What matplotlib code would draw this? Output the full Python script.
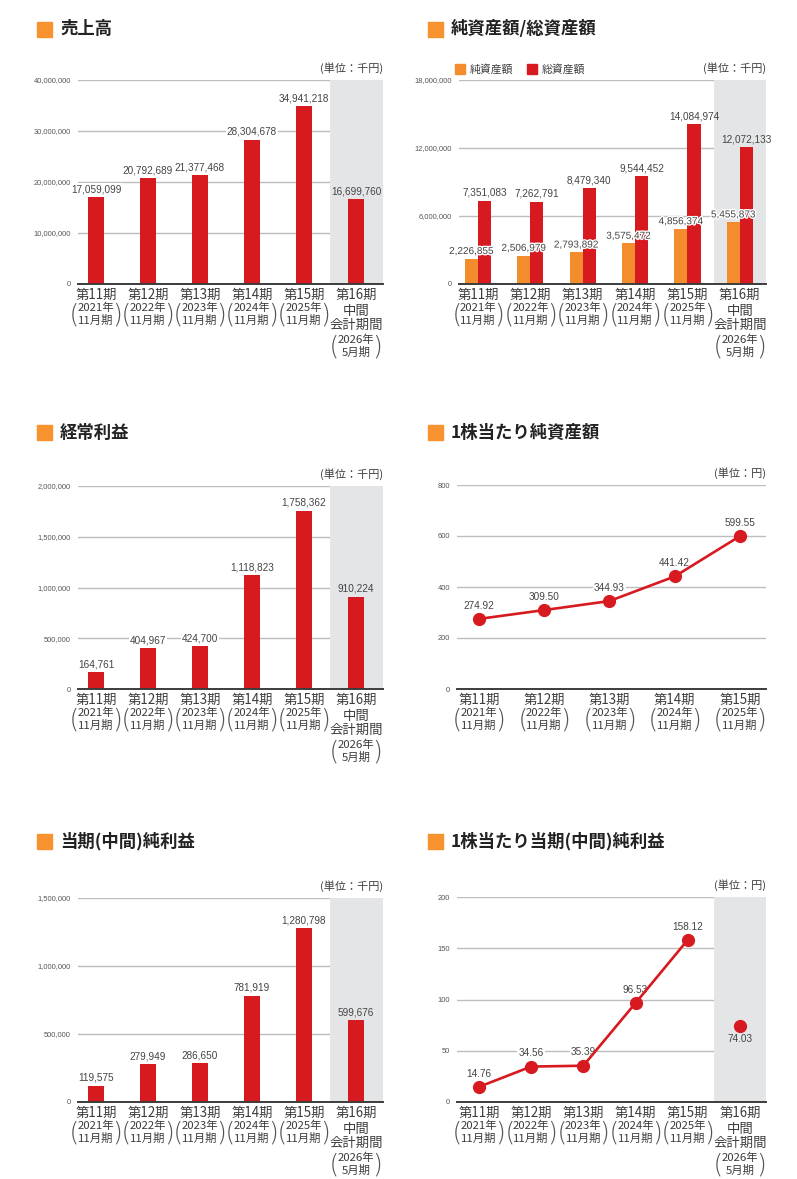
import matplotlib
matplotlib.use("Agg")
import matplotlib.pyplot as plt
import matplotlib.transforms as mtrans
import matplotlib.patheffects as pe
from matplotlib.patches import Rectangle
from matplotlib import font_manager as fm

# --- dati ---
periods = ["第11期", "第12期", "第13期", "第14期", "第15期", "第16期"]
years = ["2021年", "2022年", "2023年", "2024年", "2025年", "2026年"]
months = ["11月期", "11月期", "11月期", "11月期", "11月期", "5月期"]

sales = [17059099, 20792689, 21377468, 28304678, 34941218, 16699760]
net_assets = [2226855, 2506979, 2793892, 3575472, 4856374, 5455873]
total_assets = [7351083, 7262791, 8479340, 9544452, 14084974, 12072133]
ordinary_profit = [164761, 404967, 424700, 1118823, 1758362, 910224]
bps = [274.92, 309.50, 344.93, 441.42, 599.55]
net_income = [119575, 279949, 286650, 781919, 1280798, 599676]
eps = [14.76, 34.56, 35.39, 96.53, 158.12]
eps_interim = 74.03

sales_ticks = [0, 10000000, 20000000, 30000000, 40000000]
assets_ticks = [0, 6000000, 12000000, 18000000]
profit_ticks = [0, 500000, 1000000, 1500000, 2000000]
bps_ticks = [0, 200, 400, 600, 800]
income_ticks = [0, 500000, 1000000, 1500000]
eps_ticks = [0, 50, 100, 150, 200]

# --- stile ---
W, H, DPI = 797, 1179, 100
RED = "#d71920"
ORANGE = "#f28c2c"
SQUARE = "#f7922f"
SHADE = "#e4e5e7"
GRID = "#bdbdbd"
TXT = "#3c3c3c"

available = {f.name for f in fm.fontManager.ttflist}
NUM_FONT = "Liberation Sans Narrow" if "Liberation Sans Narrow" in available else "Liberation Sans"
JP = ["Noto Sans CJK JP", "DejaVu Sans"]
plt.rcParams["font.family"] = JP

fig = plt.figure(figsize=(W / DPI, H / DPI), dpi=DPI, facecolor="white")


def make_axes(l, t, r, b):
    return fig.add_axes([l / W, 1 - b / H, (r - l) / W, (b - t) / H])


def title(x, y, s):
    fig.patches.append(Rectangle((x / W, 1 - (y + 7.5) / H), 15 / W, 15 / H,
                                 transform=fig.transFigure, color=SQUARE))
    fig.text((x + 23) / W, 1 - y / H, s, fontsize=12.5, fontweight="bold",
             va="center", ha="left", color="#222222")


def unit(ax, s):
    pos = ax.get_position()
    fig.text(pos.x1, pos.y1 + 12 / H, s, fontsize=8, ha="right", va="center", color=TXT)


def base_axes(ax, ticks, labels, xlim, shade=True):
    ax.set_xlim(*xlim)
    ax.set_ylim(ticks[0], ticks[-1])
    ax.set_yticks(ticks)
    ax.set_yticklabels(labels, fontfamily=NUM_FONT, fontsize=5.4, color="#555555")
    ax.tick_params(axis="y", length=0, pad=5)
    ax.set_xticks([])
    for t in ticks[1:]:
        ax.axhline(t, color=GRID, lw=1.0, zorder=0)
    for s in ["top", "right", "left"]:
        ax.spines[s].set_visible(False)
    ax.spines["bottom"].set_color("#3c3c3c")
    ax.spines["bottom"].set_linewidth(1.4)
    ax.spines["bottom"].set_zorder(5)
    if shade:
        ax.axvspan(4.5, xlim[1], color=SHADE, zorder=0, lw=0)
    ax.set_facecolor("none")


def cat_labels(ax, n):
    yb = (1 - ax.get_position().y0) * H
    tr = mtrans.blended_transform_factory(ax.transData, fig.transFigure)
    for i in range(n):
        def put(dy, s, size, dx=0, color=TXT, **kw):
            t = mtrans.offset_copy(tr, fig=fig, x=dx, y=0, units="dots")
            ax.text(i, 1 - (yb + dy) / H, s, transform=t, fontsize=size, ha="center",
                    va="center", color=color, clip_on=False, **kw)
        put(11, periods[i], 9.6)
        if i < 5:
            y2, y3 = 24, 36
        else:
            put(27, "中間", 9.6)
            put(41, "会計期間", 9.6)
            y2, y3 = 56, 68
        put(y2, years[i], 8.2)
        put(y3, months[i], 8.2)
        put((y2 + y3) / 2 + 1, "(", 17, dx=-22, fontweight="light", color="#555555")
        put((y2 + y3) / 2 + 1, ")", 17, dx=22, fontweight="light", color="#555555")


def value_label(ax, x, y, s, bg, dy=2, va="bottom", stroke=False, z=6):
    kw = {}
    if stroke:
        kw["path_effects"] = [pe.withStroke(linewidth=2, foreground="white")]
    elif bg is not None:
        kw["bbox"] = dict(boxstyle="square,pad=0.1", fc=bg, ec="none")
    ax.annotate(s, (x, y), xytext=(0, dy), textcoords="offset points", ha="center", va=va,
                fontsize=7.2, fontfamily=NUM_FONT, color="#444444", zorder=z, **kw)


def bar_chart(ax, vals, ticks):
    xs = list(range(len(vals)))
    ax.bar(xs, vals, width=0.31, color=RED, zorder=3)
    for x, v in zip(xs, vals):
        value_label(ax, x, v, f"{v:,}", SHADE if x == 5 else "white")


def line_chart(ax, vals):
    xs = list(range(len(vals)))
    ax.plot(xs, vals, color=RED, lw=1.9, marker="o", ms=8.5, zorder=4, clip_on=False)
    for x, v in zip(xs, vals):
        value_label(ax, x, v, f"{v:.2f}", "white", dy=6, z=3)


fmt = lambda t: f"{t:,}"

# 売上高
ax1 = make_axes(78, 80, 383, 284)
base_axes(ax1, sales_ticks, [fmt(t) for t in sales_ticks], (-0.346, 5.52))
bar_chart(ax1, sales, sales_ticks)
cat_labels(ax1, 6)
title(37, 29, "売上高")
unit(ax1, "(単位：千円)")

# 純資産額/総資産額
ax2 = make_axes(459, 80, 766, 284)
base_axes(ax2, assets_ticks, [fmt(t) for t in assets_ticks], (-0.363, 5.5))
xs = list(range(6))
ax2.bar([x - 0.125 for x in xs], net_assets, width=0.25, color=ORANGE, zorder=3)
ax2.bar([x + 0.125 for x in xs], total_assets, width=0.25, color=RED, zorder=3)
for x, v in zip(xs, total_assets):
    value_label(ax2, x + 0.125, v, f"{v:,}", None)
for x, v in zip(xs, net_assets):
    value_label(ax2, x - 0.125, v, f"{v:,}", None, stroke=True)
cat_labels(ax2, 6)
title(428, 29, "純資産額/総資産額")
unit(ax2, "(単位：千円)")
# legenda
for lx, c, s in [(455, ORANGE, "純資産額"), (527, RED, "総資産額")]:
    fig.patches.append(Rectangle((lx / W, 1 - 74 / H), 10 / W, 10 / H,
                                 transform=fig.transFigure, color=c))
    fig.text((lx + 15) / W, 1 - 69 / H, s, fontsize=7.8, va="center", color=TXT)

# 経常利益
ax3 = make_axes(78, 486, 383, 689)
base_axes(ax3, profit_ticks, [fmt(t) for t in profit_ticks], (-0.346, 5.52))
bar_chart(ax3, ordinary_profit, profit_ticks)
cat_labels(ax3, 6)
title(37, 433, "経常利益")
unit(ax3, "(単位：千円)")

# 1株当たり純資産額
ax4 = make_axes(457, 485, 766, 689)
base_axes(ax4, bps_ticks, [str(t) for t in bps_ticks], (-0.337, 4.40), shade=False)
line_chart(ax4, bps)
cat_labels(ax4, 5)
title(428, 433, "1株当たり純資産額")
unit(ax4, "(単位：円)")

# 当期(中間)純利益
ax5 = make_axes(78, 898, 383, 1102)
base_axes(ax5, income_ticks, [fmt(t) for t in income_ticks], (-0.346, 5.52))
bar_chart(ax5, net_income, income_ticks)
cat_labels(ax5, 6)
title(37, 841, "当期(中間)純利益")
unit(ax5, "(単位：千円)")

# 1株当たり当期(中間)純利益
ax6 = make_axes(457, 897, 766, 1102)
base_axes(ax6, eps_ticks, [str(t) for t in eps_ticks], (-0.42, 5.5))
line_chart(ax6, eps)
ax6.plot([5], [eps_interim], "o", color=RED, ms=8.5, zorder=4)
value_label(ax6, 5, eps_interim, f"{eps_interim:.2f}", SHADE, dy=-6, va="top")
cat_labels(ax6, 6)
title(428, 841, "1株当たり当期(中間)純利益")
unit(ax6, "(単位：円)")

fig.savefig("out.png", dpi=DPI, facecolor="white")
